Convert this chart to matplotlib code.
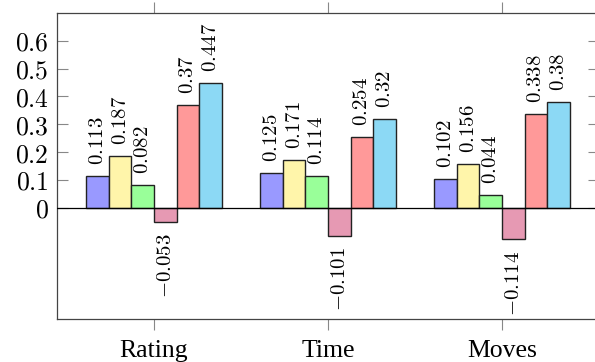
import numpy as np
import matplotlib.pyplot as plt

plt.rcParams['mathtext.fontset'] = 'cm'
plt.rcParams['font.family'] = 'serif'
plt.rcParams['font.serif'] = ['DejaVu Serif']

categories = ['Rating', 'Time', 'Moves']
series_values = [
    [0.113, 0.125, 0.102],
    [0.187, 0.171, 0.156],
    [0.082, 0.114, 0.044],
    [-0.053, -0.101, -0.114],
    [0.37, 0.254, 0.338],
    [0.447, 0.32, 0.38],
]
colors = ['#9999ff', '#fff5aa', '#99ff99', '#e699b3', '#ff9999', '#8cd9f5']
yticks = [0, 0.1, 0.2, 0.3, 0.4, 0.5, 0.6]

fig = plt.figure(figsize=(5.95, 3.62), dpi=100)
ax = fig.add_axes([57 / 595, 1 - 319 / 362, 542 / 595, 306 / 362])

x = np.arange(len(categories))
w = 0.13
for i, vals in enumerate(series_values):
    pos = x + (i - 2.5) * w
    ax.bar(pos, vals, width=w, color=colors[i], edgecolor='#222222', linewidth=1.0, zorder=3)
    for px, v in zip(pos, vals):
        if v >= 0:
            ax.annotate(f'${v:g}$', (px, v), xytext=(0, 8), textcoords='offset points',
                        rotation=90, ha='center', va='bottom', fontsize=15)
        else:
            ax.annotate(f'${v:g}$', (px, v), xytext=(0, -8), textcoords='offset points',
                        rotation=90, ha='center', va='top', fontsize=15)

# zero line
ax.axhline(0, color='black', linewidth=0.9, zorder=4)
ax.set_xlim(-0.557, 2.557)
ax.set_ylim(-0.4, 0.7)
ax.set_yticks(yticks)
ax.set_yticklabels([f'${t:g}$' for t in yticks], fontsize=18.5)
ax.set_xticks(x)
ax.set_xticklabels(categories, fontsize=18.5, family='Liberation Serif')
ax.tick_params(axis='y', direction='in', length=8, width=0.8, color='#888888', right=True, pad=6)
ax.tick_params(axis='x', direction='out', length=8, width=0.8, color='#888888', top=True, pad=7)
for s in ax.spines.values():
    s.set_color('#444444')
    s.set_linewidth(0.9)

fig.savefig('out.png', dpi=100)
